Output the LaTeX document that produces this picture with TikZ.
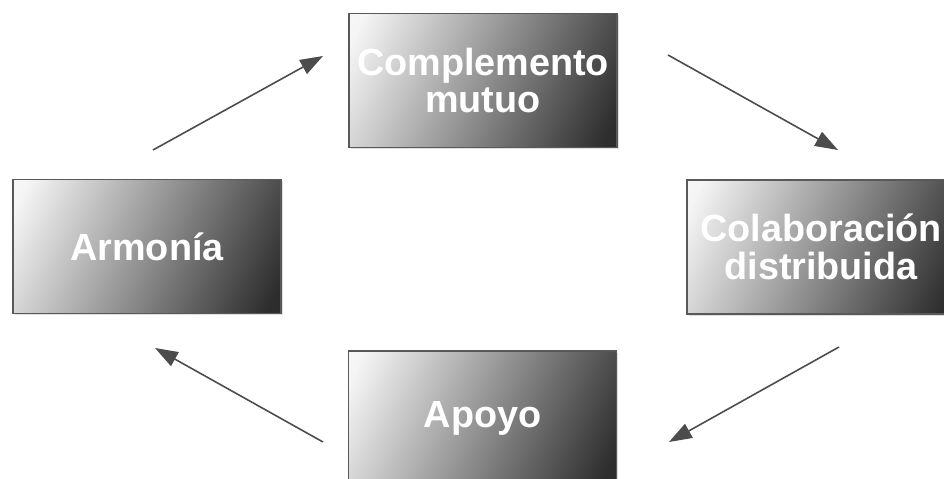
\documentclass[tikz,border=0pt]{standalone}
\usepackage{fontspec}
\setmainfont{Liberation Sans}
\usetikzlibrary{arrows.meta,shadows}
\pgfdeclarehorizontalshading{cajagrad}{100bp}{color(0bp)=(black!0); color(20bp)=(black!4); color(80bp)=(black!82); color(100bp)=(black!88)}
\begin{document}
\begin{tikzpicture}[x=0.02cm,y=-0.02cm,
    caja/.style={draw=black!65,line width=0.8pt,shading=cajagrad,shading angle=-25,
        drop shadow={opacity=0.25,shadow xshift=1pt,shadow yshift=-1pt},
        minimum width=5.36cm,minimum height=2.68cm,inner sep=0pt,align=center,
        text=white,font=\bfseries\fontsize{21.5}{21.5}\selectfont},
    flecha/.style={-{Triangle[length=13pt,width=9pt]},line width=0.9pt,draw=black!70,fill=black}]
    \clip (0,0) rectangle (944,479); %枠
    \node[caja] (comp) at (483,80.5) {Complemento\\mutuo};
    \node[caja] (colab) at (821,247) {Colaboración\\distribuida};
    \node[caja] (apoyo) at (482.5,418) {Apoyo};
    \node[caja] (armo) at (147,246.5) {Armonía};
    %矢印の端
    \coordinate (a1) at (153,150); \coordinate (b1) at (323,56);
    \coordinate (a2) at (668,55);  \coordinate (b2) at (838,150);
    \coordinate (a3) at (839,347); \coordinate (b3) at (669,442);
    \coordinate (a4) at (323,442); \coordinate (b4) at (155,348);
    \draw[flecha] (a1)--(b1);
    \draw[flecha] (a2)--(b2);
    \draw[flecha] (a3)--(b3);
    \draw[flecha] (a4)--(b4);
\end{tikzpicture}
\end{document}
